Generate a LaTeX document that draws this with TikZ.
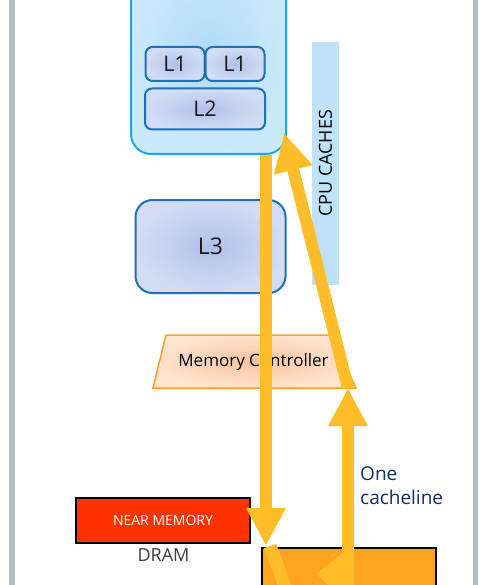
\documentclass[tikz,border=0pt]{standalone}
\usepackage{fontspec}
\setmainfont{Open Sans}
\usetikzlibrary{arrows.meta}
\definecolor{barGray}{HTML}{B4BEC4}
\definecolor{cpuBorder}{HTML}{1CA8E8}
\definecolor{cpuInner}{HTML}{B0DAF9}
\definecolor{cpuOuter}{HTML}{CBE9FC}
\definecolor{cacheBorder}{HTML}{2070B8}
\definecolor{cacheInner}{HTML}{AFC1EA}
\definecolor{cacheOuter}{HTML}{D2DCF4}
\definecolor{cachesBlue}{HTML}{BFE2FA}
\definecolor{mcBorder}{HTML}{FF9D2B}
\definecolor{mcInner}{HTML}{F9C4A0}
\definecolor{mcOuter}{HTML}{FEE3CE}
\definecolor{arrowGold}{HTML}{FFBD29}
\definecolor{nearRed}{HTML}{FF3300}
\definecolor{farOrange}{HTML}{FFA41F}
\definecolor{textBlue}{HTML}{0C2C70}
\definecolor{dramGray}{HTML}{3C3C3C}
\begin{document}
\begin{tikzpicture}[x=1pt,y=-1pt,
		cachebox/.style={draw=cacheBorder,line width=2pt,rounded corners=7pt,inner color=cacheInner,outer color=cacheOuter,text=black!90,font=\fontsize{21.5}{26}\selectfont},
		bigarrow/.style={draw=arrowGold,line width=12pt,-{Triangle[length=38pt,width=37pt]}}]
			\useasboundingbox (0,0) rectangle (500,585);
			\clip (0,0) rectangle (500,585);

			% FRAME
			\fill[barGray] (9,0) rectangle (15,585);
			\fill[barGray] (473,0) rectangle (478,585);

			% CPU CORE
			\node[draw=cpuBorder,line width=2pt,rounded corners=20pt,inner color=cpuInner,outer color=cpuOuter,minimum width=155pt,minimum height=200pt] (cpu) at (208.5,54) {};
			\foreach \x [count=\i] in {175,235} {
				\node[cachebox,minimum width=59pt,minimum height=34pt] (l1-\i) at (\x,64) {L1};
			}
			\node[cachebox,minimum width=120pt,minimum height=41pt] (l2) at (205,109) {L2};

			% L3
			\node[cachebox,rounded corners=17pt,minimum width=150pt,minimum height=93pt,font=\fontsize{23}{28}\selectfont] (l3) at (210.5,246.5) {L3};

			% CPU CACHES
			\node[fill=cachesBlue,rotate=90,minimum width=243pt,minimum height=27pt,inner sep=0pt,font=\fontsize{18}{22}\selectfont] (caches) at (325.5,163.5) {CPU CACHES};

			% MEMORY CONTROLLER
			\shadedraw[draw=mcBorder,line width=1.5pt,inner color=mcInner,outer color=mcOuter] (166,335) -- (331,335) -- (356,388) -- (153,388) -- cycle;
			\node[font=\fontsize{17}{20}\selectfont] (mc) at (253.5,362) {Memory Controller};

			% DRAM
			\node[draw=black,line width=2pt,fill=nearRed,minimum width=174pt,minimum height=45pt,text=white,font=\fontsize{14}{17}\selectfont] (near) at (163,520.5) {NEAR MEMORY};
			\node[text=dramGray,font=\fontsize{18}{22}\selectfont] (dram) at (163.5,555) {DRAM};
			\node[draw=black,line width=2pt,fill=farOrange,minimum width=174pt,minimum height=104pt] (far) at (349,600) {};

			\node[anchor=west,align=left,inner sep=0pt,text=textBlue,font=\fontsize{19}{24}\selectfont] (cacheline) at (360,486) {One\\cacheline};

			% ARROWS
			\coordinate (dnTop) at (266,155);
			\coordinate (dnTip) at (266,546);
			\coordinate (upFoot) at (348,600);
			\coordinate (mcTip) at (348,388);
			\coordinate (cpuTip) at (284,133);
			\draw[bigarrow] (dnTop) -- (dnTip);
			\draw[bigarrow] (mcTip) -- (cpuTip);
			\draw[bigarrow] (upFoot) -- (mcTip);
			\draw[arrowGold,line width=13pt] (270,546) -- (287,592);
			\fill[arrowGold] (316,574) -- (346,550) -- (346,600) -- cycle;
		\end{tikzpicture}
\end{document}
